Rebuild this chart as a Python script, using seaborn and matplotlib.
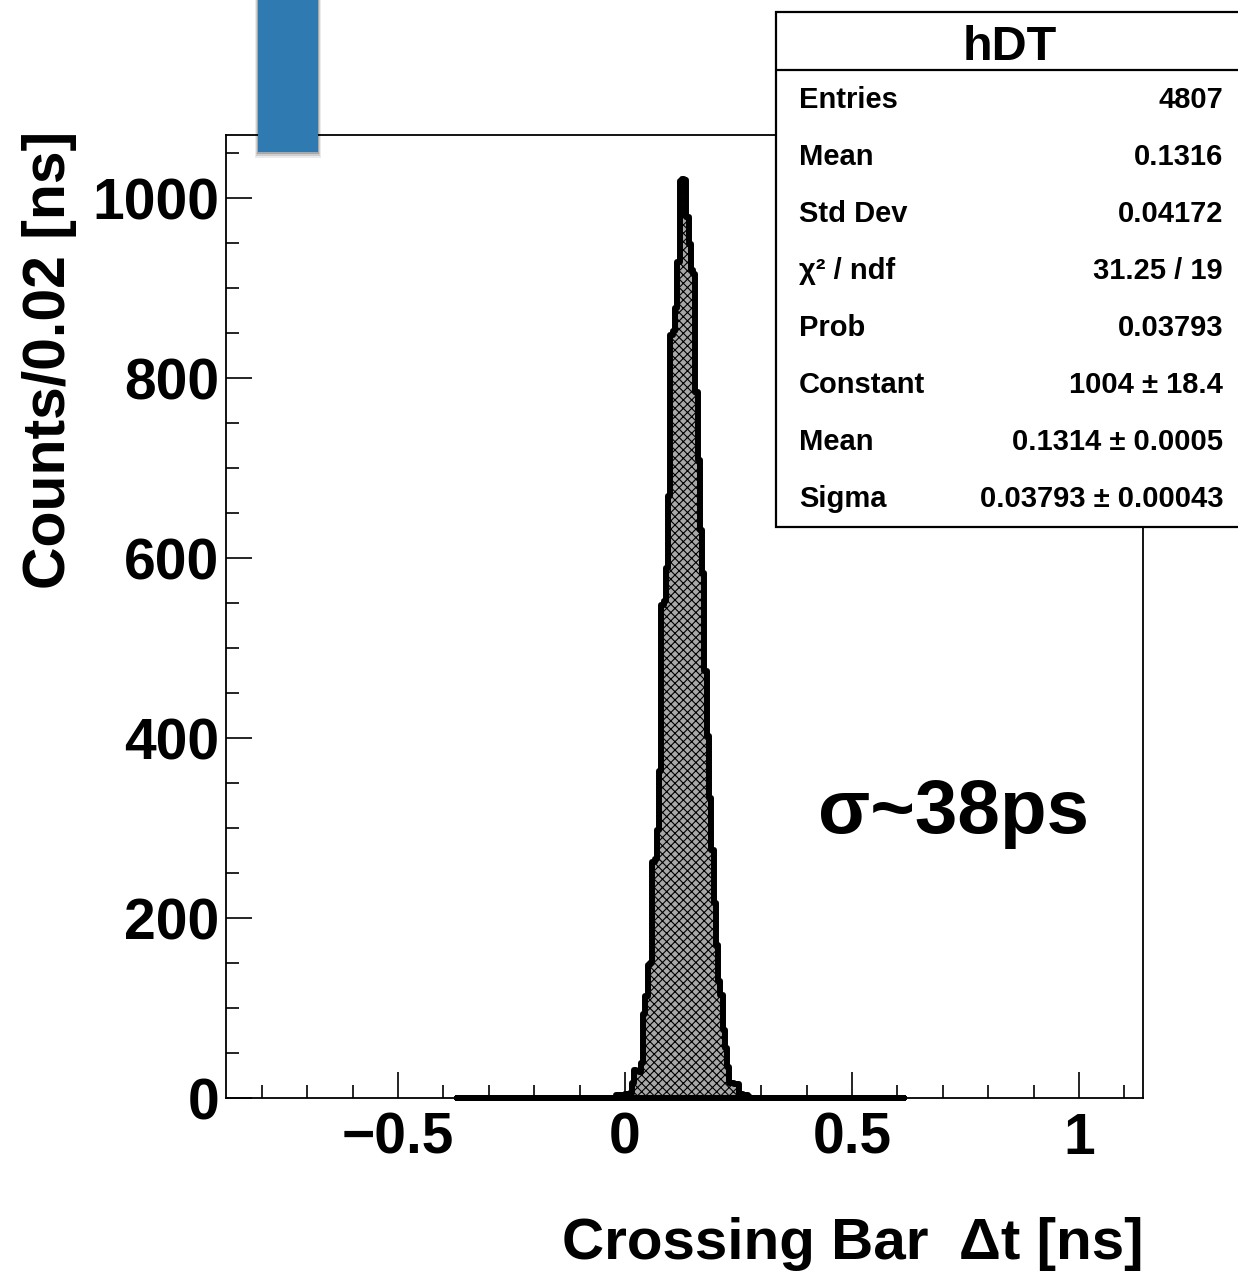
import numpy as np
import pandas as pd
import matplotlib
matplotlib.use("Agg")
import matplotlib.pyplot as plt
import seaborn as sns
from matplotlib.patches import Rectangle
from matplotlib.lines import Line2D
from matplotlib.ticker import FixedLocator, MultipleLocator, FixedFormatter

# ---------------- data ----------------
hist_start = -0.37          # first bin edge of the histogram
hist_stop = 0.615           # last bin edge
bin_width = 0.005
signal_start = -0.02        # left edge of the first non-empty bin
signal_counts = [
    3, 3, 3, 3, 4, 5, 6, 17, 31, 30, 29, 39, 93, 113, 148, 150,
    262, 266, 298, 363, 548, 552, 589, 669, 848, 852, 878, 929,
    1019, 1021, 1020,
    979, 949, 920, 916, 784, 709, 631, 583, 474, 402, 333, 276, 217,
    170, 130, 115, 76, 56, 35, 17, 17, 16, 16, 4, 4, 3, 3, 1,
]

x_ticks = [-0.5, 0.0, 0.5, 1.0]
x_tick_labels = ["\u22120.5", "0", "0.5", "1"]
y_ticks = [0, 200, 400, 600, 800, 1000]
y_tick_labels = ["0", "200", "400", "600", "800", "1000"]

stats_title = "hDT"
stats_labels = ["Entries", "Mean", "Std Dev", "\u03c7\u00b2 / ndf", "Prob",
                "Constant", "Mean", "Sigma"]
stats_values = ["4807", "0.1316", "0.04172", "31.25 / 19", "0.03793",
                "1004 \u00b1 18.4", "0.1314 \u00b1 0.0005",
                "0.03793 \u00b1 0.00043"]
annotation = "\u03c3~38ps"
x_label = "Crossing Bar  \u0394t [ns]"
y_label = "Counts/0.02 [ns]"

# ---------------- style ----------------
sns.set_style("white")
plt.rcParams["font.family"] = ["Liberation Sans", "DejaVu Sans"]
plt.rcParams["font.weight"] = "bold"
plt.rcParams["text.color"] = "black"
plt.rcParams["axes.labelcolor"] = "black"
plt.rcParams["xtick.color"] = "black"
plt.rcParams["ytick.color"] = "black"
plt.rcParams["hatch.linewidth"] = 0.8
plt.rcParams["hatch.color"] = "black"

W, H = 1238, 1272
fig = plt.figure(figsize=(W / 100, H / 100), dpi=100)
fig.patch.set_facecolor("white")
ax = fig.add_axes([226 / W, 1 - 1098 / H, (1143 - 226) / W, (1098 - 135) / H])

edges = np.round(np.arange(hist_start, hist_stop + bin_width / 2, bin_width), 4)
counts = np.zeros(len(edges) - 1)
i0 = int(round((signal_start - hist_start) / bin_width))
counts[i0:i0 + len(signal_counts)] = signal_counts
centers = (edges[:-1] + edges[1:]) / 2
df = pd.DataFrame({"dt": centers, "n": counts})

sns.histplot(data=df, x="dt", weights="n", bins=edges.tolist(), element="step",
             fill=True, ax=ax, facecolor="#a8a8a8", edgecolor="black",
             linewidth=4.3, alpha=1)
for coll in ax.collections:
    coll.set_hatch("xxxx")
    coll.set_clip_on(False)
    coll.set_zorder(2)

ax.set_xlim(-0.879, 1.141)
ax.set_ylim(0, 1070)

ax.xaxis.set_major_locator(FixedLocator(x_ticks))
ax.xaxis.set_major_formatter(FixedFormatter(x_tick_labels))
ax.xaxis.set_minor_locator(MultipleLocator(0.1))
ax.yaxis.set_major_locator(FixedLocator(y_ticks))
ax.yaxis.set_major_formatter(FixedFormatter(y_tick_labels))
ax.yaxis.set_minor_locator(MultipleLocator(50))

ax.tick_params(which="major", direction="in", length=19, width=1.2,
               labelsize=41, pad=5, top=False, right=False,
               bottom=True, left=True, color="black", labelcolor="black")
ax.tick_params(axis="x", which="major", pad=10)
ax.tick_params(which="minor", direction="in", length=9.5, width=1.2,
               top=False, right=False, bottom=True, left=True, color="black")
for lab in ax.get_xticklabels() + ax.get_yticklabels():
    lab.set_fontweight("bold")
for sp in ax.spines.values():
    sp.set_linewidth(1.3)
    sp.set_color("black")
    sp.set_zorder(3)

ax.set_xlabel(x_label, fontsize=42, fontweight="bold", loc="right",
              color="black")
ax.xaxis.set_label_coords(1.0, -0.124)
ax.set_ylabel(y_label, fontsize=42.5, fontweight="bold", loc="top",
              color="black")
ax.yaxis.set_label_coords(-0.162, 1.004)

# annotation
fig.text(818 / W, 1 - 833 / H, annotation, fontsize=55, fontweight="bold",
         ha="left", va="baseline", color="black")

# ---------------- stats box ----------------
box = Rectangle((776 / W, 1 - 527 / H), (W + 20 - 776) / W, (527 - 12) / H,
                transform=fig.transFigure, facecolor="white",
                edgecolor="black", linewidth=1.6, zorder=10)
fig.add_artist(box)
fig.add_artist(Line2D([776 / W, 1.0], [1 - 70 / H, 1 - 70 / H],
                      transform=fig.transFigure, color="black",
                      linewidth=1.6, zorder=11))
fig.text(1010 / W, 1 - 60 / H, stats_title, fontsize=35, fontweight="bold",
         ha="center", va="baseline", zorder=12, color="black")
for k, (lab, val) in enumerate(zip(stats_labels, stats_values)):
    yb = 1 - (108.5 + 56.9 * k) / H
    fig.text(799 / W, yb, lab, fontsize=21, fontweight="bold",
             ha="left", va="baseline", zorder=12, color="black")
    fig.text(1223 / W, yb, val, fontsize=21, fontweight="bold",
             ha="right", va="baseline", zorder=12, color="black")

# ---------------- blue slide marker ----------------
for d, a in [(6, 0.08), (4, 0.12), (2, 0.18)]:
    fig.add_artist(Rectangle(((258 - d / 2) / W, 1 - (152 + d) / H),
                             (60 + d) / W, (152 + d + 10) / H,
                             transform=fig.transFigure, facecolor="black",
                             edgecolor="none", alpha=a, zorder=13))
fig.add_artist(Rectangle((258 / W, 1 - 152 / H), 60 / W, 162 / H,
                         transform=fig.transFigure, facecolor="#2f7bb1",
                         edgecolor="none", zorder=14))

fig.savefig("out.png", dpi=100, facecolor="white")
